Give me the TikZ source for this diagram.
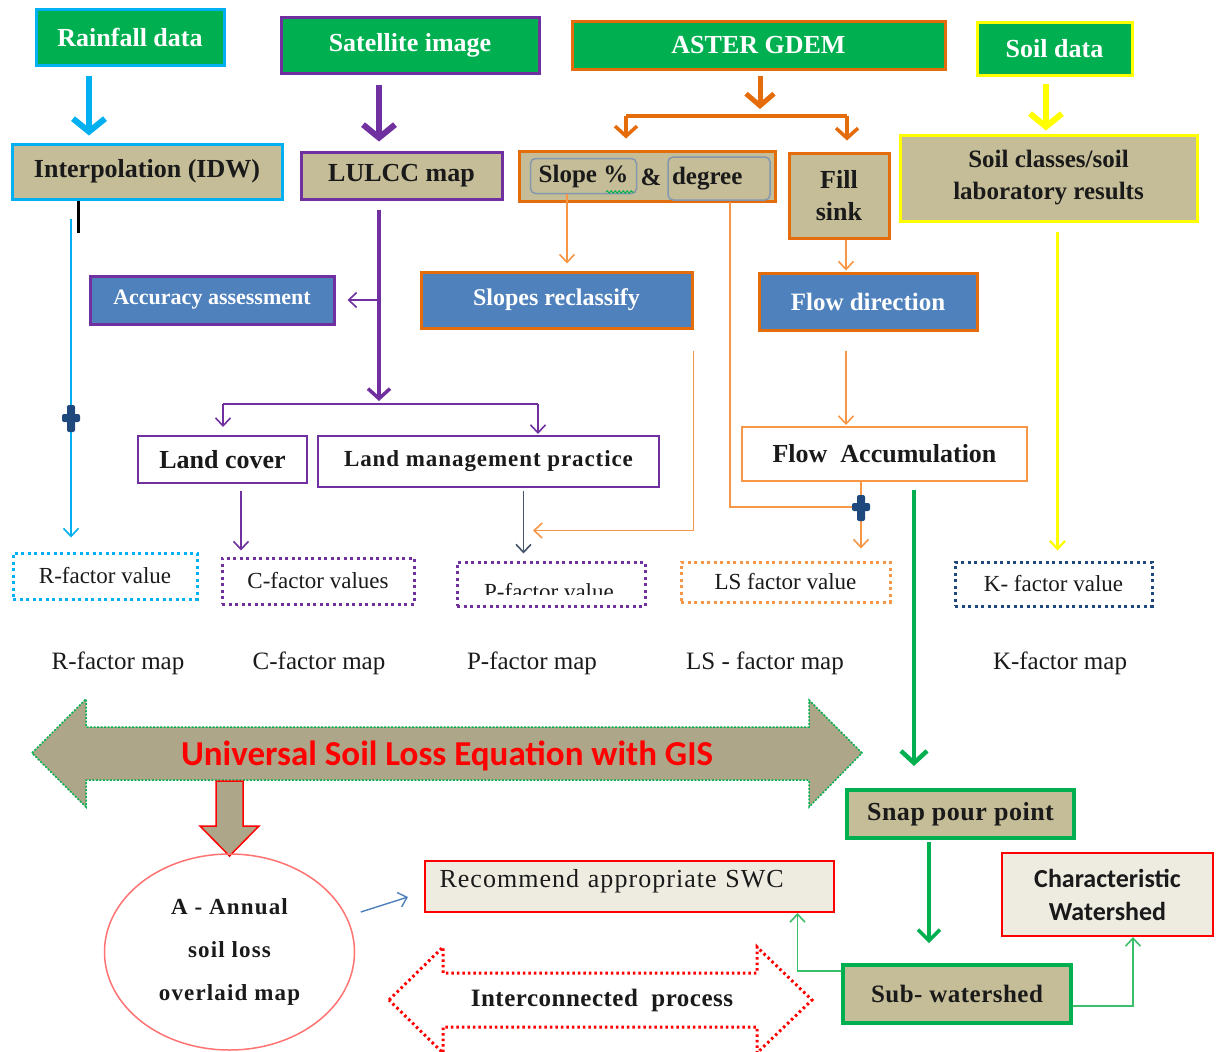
\documentclass[tikz,border=0pt]{standalone}
\usepackage{fontspec}
\setmainfont{Liberation Serif}
\newfontfamily\calib{Carlito}
\usetikzlibrary{arrows.meta,shapes.geometric,decorations.pathmorphing}
\definecolor{grC}{HTML}{00B050}
\definecolor{cyC}{HTML}{00B0F0}
\definecolor{puC}{HTML}{7030A0}
\definecolor{orD}{HTML}{E46C0A}
\definecolor{orL}{HTML}{F79646}
\definecolor{yeC}{HTML}{FFFF00}
\definecolor{tanF}{HTML}{C4BD97}
\definecolor{blF}{HTML}{4F81BD}
\definecolor{nvC}{HTML}{1F497D}
\definecolor{rdC}{HTML}{FF0000}
\definecolor{ltF}{HTML}{EEECE1}
\definecolor{arrF}{HTML}{ADA688}
\definecolor{lgC}{HTML}{3CBF6A}
\definecolor{slC}{HTML}{44546A}
\definecolor{sgC}{HTML}{8497B0}
\definecolor{txC}{HTML}{1A1A1A}
\tikzset{
 bx/.style={draw, inner sep=0pt, align=center, line width=3pt},
 hdr/.style={bx, fill=grC, text=white, font=\bfseries\fontsize{26}{30}\selectfont},
 tb/.style={bx, fill=tanF, text=txC, font=\bfseries\fontsize{26}{32}\selectfont},
 bb/.style={bx, fill=blF, text=white, font=\bfseries\fontsize{24}{28}\selectfont},
 wb/.style={bx, fill=white, text=txC, line width=2pt, font=\bfseries\fontsize{25}{28}\selectfont},
 db/.style={draw, line width=3pt, dash pattern=on 3pt off 3.5pt, inner sep=0pt, text=txC, font=\fontsize{23}{26}\selectfont},
 inbox/.style={draw=sgC, line width=1.5pt, rounded corners=5pt, inner sep=0pt, text=txC, font=\bfseries\fontsize{25}{28}\selectfont},
 ml/.style={text=txC, font=\fontsize{25}{28}\selectfont},
 barr/.style={line width=6pt, -{Straight Barb[length=13pt,width=32pt]}},
 marr/.style={line width=3.5pt, -{Straight Barb[length=10pt,width=22pt]}},
 tarr/.style={line width=1.6pt, -{Straight Barb[length=8pt,width=15pt]}},
 rb/.style={bx, fill=ltF, draw=rdC, line width=2pt, text=txC},
}
\begin{document}
\begin{tikzpicture}[x=1pt,y=-1pt]
\useasboundingbox (0,0) rectangle (1216,1052);
\fill[white] (0,0) rectangle (1216,1052);

% top headers
\node[hdr, draw=cyC, minimum width=188pt, minimum height=56pt] (rain) at (130,37) {Rainfall data};
\node[hdr, draw=puC, minimum width=258pt, minimum height=56pt] (sat) at (410,45) {Satellite image};
\node[hdr, draw=orD, minimum width=373pt, minimum height=48pt] (aster) at (758.5,45) {ASTER GDEM};
\node[hdr, draw=yeC, minimum width=155pt, minimum height=53pt] (soil) at (1054.5,48.5) {Soil data};

% second row
\node[tb, draw=cyC, minimum width=270pt, minimum height=55pt] (ipol) at (147,171.5) {Interpolation (IDW)};
\node[tb, draw=puC, minimum width=201pt, minimum height=47pt] (lulcc) at (401.5,175.5) {LULCC map};
\node[tb, draw=orD, minimum width=256pt, minimum height=50pt] (slope) at (647,176) {};
\node[inbox, minimum width=106pt, minimum height=35pt] (sp) at (583.5,176) {Slope \%};
\node[text=txC, font=\bfseries\fontsize{25}{28}\selectfont, inner sep=0pt] (amp) at (651,177) {\&};
\node[inbox, minimum width=102pt, minimum height=43pt, text width=94pt, align=left] (deg) at (719,178.5) {degree};
\draw[grC, line width=1pt, decorate, decoration={snake, amplitude=1.2pt, segment length=4pt}] (606,192) -- (634,192);
\node[tb, draw=orD, minimum width=100pt, minimum height=85pt] (fill) at (839,195.5) {Fill\\sink};
\node[tb, draw=yeC, minimum width=297pt, minimum height=86pt, font=\bfseries\fontsize{25}{32}\selectfont] (soilc) at (1048.5,178) {Soil classes/soil\\laboratory results};

% third row
\node[bb, draw=puC, minimum width=244pt, minimum height=48pt, font=\bfseries\fontsize{22}{26}\selectfont] (acc) at (212,300) {Accuracy assessment};
\node[bb, draw=orD, minimum width=271pt, minimum height=56pt] (slr) at (556.5,300) {Slopes reclassify};
\node[bb, draw=orD, minimum width=218pt, minimum height=57pt, font=\bfseries\fontsize{25}{28}\selectfont] (fdir) at (868,301.5) {Flow direction};

% fourth row
\node[wb, draw=puC, minimum width=169pt, minimum height=47pt, font=\bfseries\fontsize{26}{28}\selectfont] (lc) at (222.5,459.5) {Land cover};
\node[wb, draw=puC, minimum width=341pt, minimum height=51pt, font=\bfseries\fontsize{23}{28}\selectfont] (lmp) at (488.5,461.5) {\addfontfeature{LetterSpace=4}Land management practice};
\node[wb, draw=orL, minimum width=285pt, minimum height=54pt, font=\bfseries\fontsize{26}{28}\selectfont] (facc) at (884.5,454) {Flow\ \ Accumulation};

% factor value boxes
\node[db, draw=cyC, minimum width=184pt, minimum height=46pt] (rv) at (105,576) {R-factor value};
\node[db, draw=puC, minimum width=192pt, minimum height=46pt] (cv) at (318,581) {C-factor values};
\node[db, draw=puC, minimum width=188pt, minimum height=44pt] (pv) at (551,584) {};
\begin{scope}
\clip (460,565) rectangle (642,594);
\node[text=txC, font=\fontsize{23}{26}\selectfont, inner sep=0pt] (pvt) at (549,592) {P-factor value};
\end{scope}
\node[db, draw=orL, minimum width=209pt, minimum height=40pt] (lsv) at (785.5,582) {LS factor value};
\node[db, draw=nvC, minimum width=197pt, minimum height=44pt] (kv) at (1053.5,584) {K- factor value};

% map labels
\node[ml] (rm) at (118,663) {R-factor map};
\node[ml] (cm) at (319,663) {C-factor map};
\node[ml] (pm) at (532,663) {P-factor map};
\node[ml] (lm) at (765,663) {LS - factor map};
\node[ml] (km) at (1060,663) {K-factor map};

% USLE double arrow
\draw[fill=arrF, draw=grC, line width=1.5pt, dash pattern=on 2pt off 1.5pt]
  (32,753) -- (86,699) -- (86,727) -- (809,727) -- (809,700) -- (862,753) -- (809,807) -- (809,780) -- (86,780) -- (86,807) -- cycle;
\node[text=rdC, font=\calib\bfseries\fontsize{35}{40}\selectfont, inner sep=0pt] (usle) at (447,756) {Universal Soil Loss Equation with GIS};

% down block arrow
\draw[fill=arrF, draw=rdC, line width=1.5pt]
  (216,781) -- (243,781) -- (243,826) -- (259,826) -- (229.5,856) -- (200,826) -- (216,826) -- cycle;

% circle
\node[ellipse, draw=rdC!55, line width=1.5pt, minimum width=250pt, minimum height=196pt, inner sep=0pt, align=center, text=txC, font=\bfseries\fontsize{23}{43}\selectfont] (circ) at (229.5,952) {\addfontfeature{LetterSpace=5}A - Annual\\\addfontfeature{LetterSpace=5}soil loss\\\addfontfeature{LetterSpace=5}overlaid map};

% bottom boxes
\node[rb, minimum width=409pt, minimum height=51pt, inner ysep=4.5pt, text height=22pt, text depth=20pt, text width=380pt, align=left, font=\fontsize{26}{28}\selectfont] (rec) at (629.5,886.5) {\addfontfeature{LetterSpace=4}Recommend appropriate SWC};
\node[tb, draw=grC, line width=4pt, minimum width=227pt, minimum height=48pt, font=\bfseries\fontsize{26}{28}\selectfont] (snap) at (960.5,814) {\addfontfeature{LetterSpace=2}Snap pour point};
\node[tb, draw=grC, line width=4pt, minimum width=228pt, minimum height=58pt, font=\bfseries\fontsize{25}{28}\selectfont] (sub) at (957,994) {\addfontfeature{LetterSpace=2}Sub- watershed};
\node[rb, minimum width=211pt, minimum height=83pt, font=\calib\bfseries\fontsize{26}{33}\selectfont] (char) at (1107.5,894.5) {Characteristic\\Watershed};

% interconnected process dotted arrow
\draw[draw=rdC, line width=3pt, dash pattern=on 2.5pt off 3pt]
  (389,1000) -- (443,947) -- (443,973) -- (757,973) -- (757,947) -- (812,1000) -- (757,1053) -- (757,1027) -- (443,1027) -- (443,1053) -- cycle;
\node[text=txC, font=\bfseries\fontsize{25}{28}\selectfont, inner sep=0pt] (icp) at (602,1000) {\addfontfeature{LetterSpace=2}Interconnected\ \ process};

% ---- connectors ----
% rainfall
\draw[barr, cyC] ([xshift=-41pt,yshift=-9pt]rain.south) -- ([xshift=-58pt,yshift=7pt]ipol.north);
\draw[line width=3pt, black] ([xshift=-69pt]ipol.south) -- ++(0,32);
\draw[tarr, cyC] ([xshift=-76pt,yshift=-18pt]ipol.south) -- ([xshift=-34pt,yshift=14pt]rv.north);
\fill[nvC, rounded corners=2pt] (67,405) rectangle (75,432);
\fill[nvC, rounded corners=2pt] (62,414) rectangle (80,422);

% satellite
\draw[barr, puC] ([xshift=-31pt,yshift=-10pt]sat.south) -- ([xshift=-22.5pt,yshift=9pt]lulcc.north);
\coordinate (pb) at (379,404);
\coordinate (pa) at (379,300);
\draw[marr, puC] ([xshift=-22.5pt,yshift=-9pt]lulcc.south) -- ([yshift=3pt]pb);
\draw[tarr, puC, shorten >=12pt] (pa) -- (acc.east);
\draw[line width=2.2pt, puC] ([xshift=-156pt]pb) -- ([xshift=159pt]pb);
\draw[tarr, puC] ([xshift=-156pt]pb) -- ([xshift=.5pt,yshift=8pt]lc.north);
\draw[tarr, puC] ([xshift=159pt]pb) -- ([xshift=49.5pt,yshift=1pt]lmp.north);
\draw[tarr, puC] ([xshift=18.5pt,yshift=-7pt]lc.south) -- ([xshift=-77pt,yshift=6pt]cv.north);
\draw[tarr, slC] ([xshift=35pt,yshift=-3pt]lmp.south) -- ([xshift=-27.5pt,yshift=7pt]pv.north);

% aster
\coordinate (ab) at (760,116);
\draw[line width=5pt, orD, -{Straight Barb[length=12pt,width=28pt]}] ([xshift=1.5pt,yshift=-5pt]aster.south) -- ([yshift=7pt]ab);
\draw[line width=3.5pt, orD] ([xshift=-134pt]ab) -- ([xshift=87pt]ab);
\draw[marr, orD] ([xshift=-134pt]ab) -- ([xshift=-21pt,yshift=11pt]slope.north);
\draw[marr, orD] ([xshift=87pt]ab) -- ([xshift=8pt,yshift=11pt]fill.north);
\draw[tarr, orL] ([xshift=-16.5pt]sp.south) -- ([xshift=10.5pt,yshift=7pt]slr.north);
\draw[tarr, orL] ([xshift=7pt]fill.south) -- ([xshift=-22pt,yshift=1pt]fdir.north);
\draw[tarr, orL] ([xshift=-22pt,yshift=-19pt]fdir.south) -- ([xshift=-38.5pt,yshift=1pt]facc.north);
\draw[tarr, orL] ([yshift=-21pt]slr.south east) |- ([xshift=-18pt,yshift=30pt]pv.north);
\coordinate (mj) at (861,507);
\draw[line width=1.6pt, orL] ([xshift=11pt,yshift=-1pt]deg.south) |- (mj);
\draw[tarr, orL] ([xshift=-23.5pt]facc.south) -- ([xshift=75.5pt,yshift=12pt]lsv.north);
\fill[nvC, rounded corners=2pt] (857,495) rectangle (865,521);
\fill[nvC, rounded corners=2pt] (852,503) rectangle (870,511);

% soil
\draw[barr, yeC] ([xshift=-8.5pt,yshift=-7pt]soil.south) -- ([xshift=-2.5pt,yshift=3pt]soilc.north);
\draw[line width=2.2pt, yeC, -{Straight Barb[length=8pt,width=15pt]}] ([xshift=9pt,yshift=-9pt]soilc.south) -- ([xshift=4pt,yshift=10pt]kv.north);

% green flow
\draw[line width=4.5pt, grC, -{Straight Barb[length=12pt,width=26pt]}] ([xshift=29.5pt,yshift=-8pt]facc.south) -- ([xshift=-46.5pt,yshift=22pt]snap.north);
\draw[line width=3.5pt, grC, -{Straight Barb[length=11pt,width=22pt]}] ([xshift=-31.5pt,yshift=-2pt]snap.south) -- ([xshift=-28pt,yshift=20pt]sub.north);
\draw[tarr, lgC] ([yshift=23pt]sub.west) -| ([xshift=168pt]rec.south);
\draw[tarr, lgC] ([yshift=-12pt]sub.east) -| ([xshift=25.5pt]char.south);

% circle to recommend
\draw[line width=1.4pt, blF, -{Straight Barb[length=8pt,width=15pt]}] ([xshift=5.5pt,yshift=40pt]circ.east) -- ([xshift=-16pt,yshift=-10.5pt]rec.west);
\end{tikzpicture}
\end{document}
